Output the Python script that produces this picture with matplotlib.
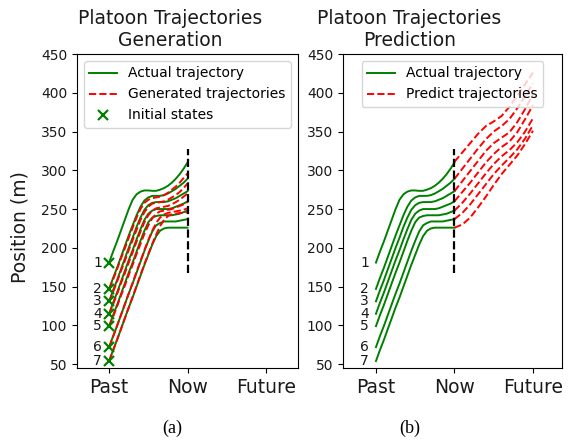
import matplotlib
matplotlib.use("Agg")
import matplotlib.pyplot as plt

# ---- data ----
t_past = [0.00, 0.05, 0.10, 0.15, 0.20, 0.25, 0.30, 0.35, 0.40, 0.45, 0.50,
          0.55, 0.60, 0.65, 0.70, 0.75, 0.80, 0.85, 0.90, 0.95, 1.00]
actual_1 = [181, 195, 208, 222, 236, 250, 262, 269, 272.5, 274, 274, 273.5, 273.5, 275, 277, 280, 284, 289, 295, 302, 310]
actual_2 = [147, 161, 174, 188, 202, 216, 229, 242, 253, 261, 265, 267, 267, 267, 268, 270, 273, 276, 280, 284, 289]
actual_3 = [131, 145, 158, 172, 186, 200, 213, 227, 239, 249, 255, 258, 259, 259, 259, 260, 262, 264, 267, 270, 273]
actual_4 = [115, 129, 142, 156, 170, 184, 197, 211, 224, 236, 244, 248, 250, 250, 250, 250, 251, 253, 255, 257, 260]
actual_5 = [99, 113, 126, 140, 154, 168, 181, 195, 209, 222, 233, 239, 241, 242, 242, 242, 242, 243, 244, 246, 248]
actual_6 = [72, 86, 99, 113, 127, 141, 154, 168, 182, 196, 209, 221, 229, 232, 234, 234, 234, 234, 235, 236, 237]
actual_7 = [54, 68, 81, 95, 109, 123, 136, 150, 164, 178, 191, 204, 215, 222, 225, 226, 226, 226, 226, 226, 226]

gen_2 = [147, 159, 172, 186, 199, 213, 226, 239, 250, 258, 262, 264, 265, 266, 268, 271, 275, 279, 284, 290, 296]
gen_3 = [131, 143, 156, 170, 183, 197, 210, 223, 236, 246, 253, 257, 258, 259, 260, 262, 265, 268, 272, 277, 283]
gen_4 = [115, 127, 140, 154, 167, 181, 194, 208, 221, 233, 242, 248, 251, 252, 253, 254, 256, 259, 262, 266, 270]
gen_5 = [99, 111, 124, 138, 151, 165, 178, 192, 205, 218, 229, 238, 244, 247, 248, 249, 250, 252, 254, 256, 259]
gen_6 = [72, 85, 99, 113, 127, 141, 155, 169, 183, 197, 210, 222, 232, 239, 243, 245, 246, 247, 248, 249, 251]
gen_7 = [54, 67, 81, 95, 109, 123, 137, 151, 165, 179, 192, 205, 217, 228, 236, 241, 243, 244, 245, 245, 246]

t_future = [1.0, 1.1, 1.2, 1.3, 1.4, 1.5, 1.6, 1.7, 1.8, 1.9, 2.0]
pred_1 = [311, 323, 335, 347, 357, 363, 370, 382, 396, 411, 426]
pred_2 = [289, 302, 315, 328, 340, 350, 357, 366, 380, 396, 412]
pred_3 = [273, 286, 299, 312, 325, 335, 342, 349, 362, 379, 398]
pred_4 = [260, 272, 284, 297, 310, 321, 330, 337, 349, 366, 384]
pred_5 = [248, 258, 270, 283, 296, 308, 318, 326, 336, 350, 367]
pred_6 = [237, 245, 256, 269, 282, 295, 306, 316, 327, 341, 358]
pred_7 = [226, 230, 239, 252, 266, 281, 295, 307, 319, 334, 351]

vehicle_labels = ["1", "2", "3", "4", "5", "6", "7"]
initial_states = [181, 147, 131, 115, 99, 72, 54]
xtick_labels = ["Past", "Now", "Future"]
now_line = [167, 328]

actual = [actual_1, actual_2, actual_3, actual_4, actual_5, actual_6, actual_7]
generated = [gen_2, gen_3, gen_4, gen_5, gen_6, gen_7]
predicted = [pred_1, pred_2, pred_3, pred_4, pred_5, pred_6, pred_7]

# ---- figure ----
fig = plt.figure(figsize=(5.79, 4.41), dpi=100)
ax1 = fig.add_axes([77/579, 73/441, 221/579, 314/441])
ax2 = fig.add_axes([343/579, 73/441, 219/579, 314/441])

GREEN = "green"
RED = "red"
TXT = "#1a1a1a"

# Panel (a)
for i, a in enumerate(actual):
    ax1.plot(t_past, a, color=GREEN, lw=1.4, label="Actual trajectory" if i == 0 else None)
for i, g in enumerate(generated):
    ax1.plot(t_past, g, color=RED, ls="--", lw=1.4, label="Generated trajectories" if i == 0 else None)
ax1.plot([0]*len(initial_states), initial_states, ls="none", marker="x", color=GREEN,
         ms=7, mew=1.6, label="Initial states")
ax1.vlines(1, now_line[0], now_line[1], colors="k", linestyles="--", lw=1.6)

# Panel (b)
for i, a in enumerate(actual):
    ax2.plot(t_past, a, color=GREEN, lw=1.4, label="Actual trajectory" if i == 0 else None)
for i, p in enumerate(predicted):
    ax2.plot(t_future, p, color=RED, ls="--", lw=1.4, label="Predict trajectories" if i == 0 else None)
ax2.vlines(1, now_line[0], now_line[1], colors="k", linestyles="--", lw=1.6)

for ax, xl in ((ax1, (-0.41, 2.41)), (ax2, (-0.42, 2.37))):
    for lab, y in zip(vehicle_labels, initial_states):
        ax.text(-0.09, y, lab, ha="right", va="center", fontsize=10, color=TXT)
    ax.set_xlim(*xl)
    ax.set_ylim(45, 450)
    ax.set_yticks(range(50, 451, 50))
    ax.set_xticks([0, 1, 2])
    ax.set_xticklabels(xtick_labels, fontsize=13.5, color=TXT)
    ax.tick_params(axis="y", labelsize=10, labelcolor=TXT)
    ax.legend(loc="upper center", fontsize=10)

ax1.set_ylabel("Position (m)", fontsize=13.5, color=TXT)
ax1.yaxis.set_label_coords(-0.213, 0.45)
ax1.set_title("Platoon Trajectories\nGeneration", fontsize=13.5, color=TXT, x=0.421)
ax2.set_title("Platoon Trajectories\nPrediction", fontsize=13.5, color=TXT, x=0.304)

fig.text(172.5/579, 1 - 428/441, "(a)", ha="center", va="center", fontsize=13,
         family="Liberation Serif")
fig.text(410/579, 1 - 428/441, "(b)", ha="center", va="center", fontsize=13,
         family="Liberation Serif")

fig.savefig("out.png", dpi=100)
